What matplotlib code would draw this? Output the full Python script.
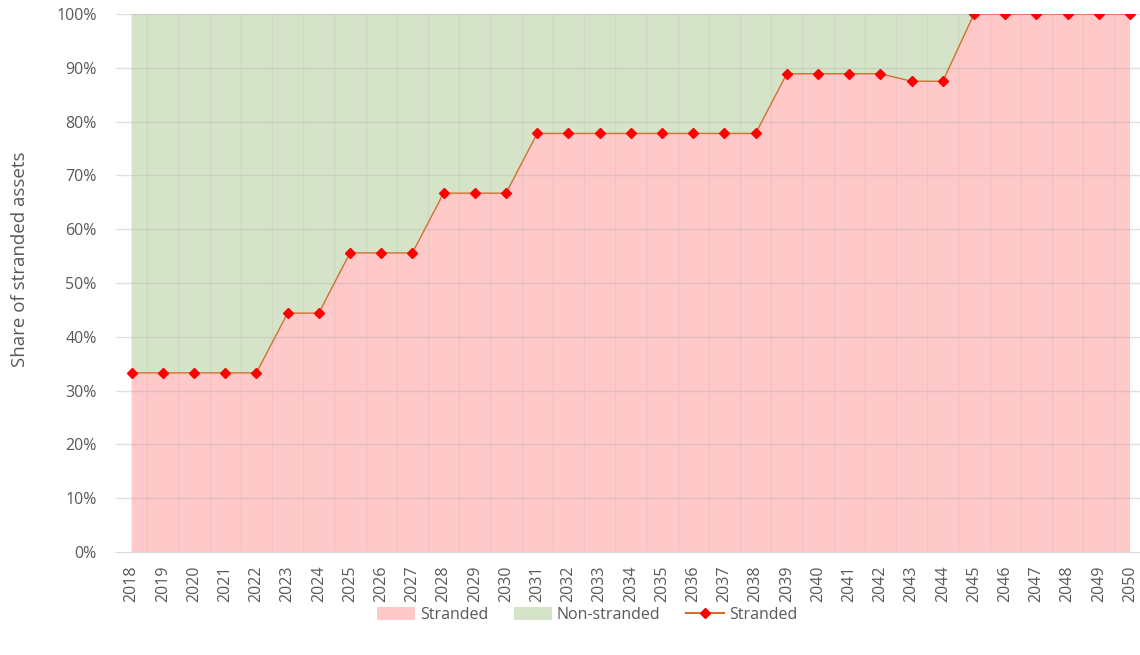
import matplotlib.pyplot as plt
from matplotlib.patches import Patch
from matplotlib.lines import Line2D
import numpy as np

plt.rcParams['font.family'] = ['Open Sans', 'DejaVu Sans']

# Years and share of stranded assets (fractions)
years = list(range(2018, 2051))
stranded = [0.333, 0.333, 0.333, 0.333, 0.333,
            0.444, 0.444,
            0.556, 0.556, 0.556,
            0.667, 0.667, 0.667,
            0.778, 0.778, 0.778, 0.778, 0.778, 0.778, 0.778, 0.778,
            0.889, 0.889, 0.889, 0.889,
            0.875, 0.875,
            1.0, 1.0, 1.0, 1.0, 1.0, 1.0]
non_stranded = [1 - s for s in stranded]

x = np.arange(len(years))
txt_color = '#595959'

fig = plt.figure(figsize=(11.4, 6.55), dpi=100)
ax = fig.add_axes([116 / 1140, 1 - 552 / 655, 1 - 116 / 1140, (552 - 14) / 655])

ax.stackplot(x, stranded, non_stranded, colors=['#ffc9c9', '#d5e4c8'], zorder=1)
ax.plot(x, stranded, color='#d2702e', linewidth=1.0, marker='D', markersize=5,
        markerfacecolor='#ff0000', markeredgecolor='#ff0000', zorder=4)

# gridlines: horizontal at 10% steps, vertical between categories
for y in np.arange(0.1, 1.01, 0.1):
    ax.axhline(y, color='#b0a8a8', alpha=0.35, linewidth=1, zorder=2)
for xv in np.arange(0.5, len(years) - 1, 1.0):
    ax.axvline(xv, color='#b0a8a8', alpha=0.18, linewidth=1, zorder=2)

ax.set_xlim(-0.5, 32.32)
ax.set_ylim(0, 1)
ax.set_xticks(x)
ax.set_xticklabels([str(y) for y in years], rotation=90, fontsize=11.5, color=txt_color)
ax.set_yticks(np.arange(0, 1.01, 0.1))
ax.set_yticklabels([f'{int(round(v * 100))}%' for v in np.arange(0, 1.01, 0.1)],
                   fontsize=11.5, color=txt_color)
ax.tick_params(axis='y', length=0, pad=14)
ax.tick_params(axis='x', length=0, pad=10)
ax.set_ylabel('Share of stranded assets', fontsize=13.5, color=txt_color)
ax.yaxis.set_label_coords(-0.085, 0.545)

for s in ['top', 'right', 'left']:
    ax.spines[s].set_visible(False)
ax.spines['bottom'].set_color('#d9d9d9')

handles = [Patch(facecolor='#ffc9c9', label='Stranded'),
           Patch(facecolor='#d5e4c8', label='Non-stranded'),
           Line2D([0], [0], color='#d2702e', marker='D', markersize=5,
                  markerfacecolor='#ff0000', markeredgecolor='#ff0000', label='Stranded')]
fig.legend(handles=handles, loc='center', bbox_to_anchor=(0.515, 1 - 615 / 655), ncol=3,
           frameon=False, fontsize=11.5, labelcolor=txt_color, handlelength=2.4,
           handleheight=0.9, columnspacing=1.6, handletextpad=0.3)

fig.savefig('out.png', dpi=100)
